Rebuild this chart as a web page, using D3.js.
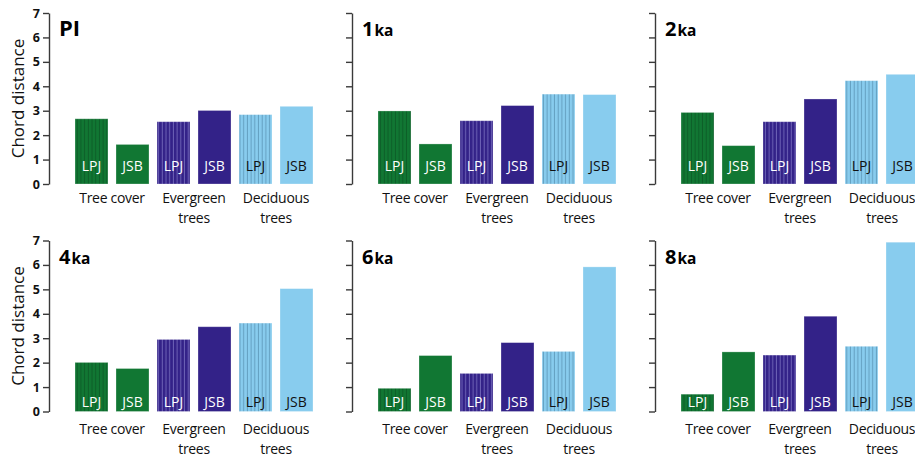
<!DOCTYPE html>
<html>
<head>
<meta charset="utf-8">
<script src="https://cdn.jsdelivr.net/npm/d3@7"></script>
<style>
  html, body { margin: 0; padding: 0; background: #fff; }
  svg { display: block; font-family: "Open Sans", sans-serif; }
</style>
</head>
<body>
<svg id="chart" width="915" height="459"></svg>
<script>
// Chord distance between simulated and reconstructed vegetation, per time slice
const periods = ["PI", "1ka", "2ka", "4ka", "6ka", "8ka"];
const categories = ["Tree cover", "Evergreen trees", "Deciduous trees"];
const models = ["LPJ", "JSB"];
const yTicks = [0, 1, 2, 3, 4, 5, 6, 7];

// values per period, in category order
const lpjValues = [
  [2.67, 2.55, 2.84],
  [2.99, 2.59, 3.68],
  [2.93, 2.55, 4.23],
  [2.01, 2.95, 3.62],
  [0.95, 1.56, 2.46],
  [0.71, 2.31, 2.67]
];
const jsbValues = [
  [1.62, 3.01, 3.18],
  [1.64, 3.21, 3.66],
  [1.57, 3.48, 4.49],
  [1.76, 3.47, 5.03],
  [2.29, 2.82, 5.92],
  [2.44, 3.90, 6.93]
];

const catColors = ["#117733", "#332288", "#88CCEE"];
const stripeColors = ["#0a4f20", "#8d84cf", "#4f87a6"];
const labelColors = ["#ffffff", "#ffffff", "#111111"];

const svg = d3.select("#chart");
const defs = svg.append("defs");

// vertical hatching used for LPJ bars
catColors.forEach((c, i) => {
  const p = defs.append("pattern")
    .attr("id", "stripe" + i)
    .attr("patternUnits", "userSpaceOnUse")
    .attr("width", 3.7).attr("height", 10);
  p.append("rect").attr("width", 3.7).attr("height", 10).attr("fill", c);
  p.append("rect").attr("x", 2.7).attr("width", 0.8).attr("height", 10)
    .attr("fill", stripeColors[i]).attr("opacity", 0.8);
});

const axisXs = [49, 352, 655];
const rows = [
  { top: 13, bottom: 184, labelGap: 13, catGap: 19 },
  { top: 240.5, bottom: 411.5, labelGap: 5, catGap: 22.5 }
];

periods.forEach((period, pi) => {
  const col = pi % 3;
  const row = rows[Math.floor(pi / 3)];
  const ax = axisXs[col];

  const y = d3.scaleLinear().domain([0, 7]).range([row.bottom, row.top]);

  const keys = [];
  categories.forEach((c, ci) => models.forEach(m => keys.push({ ci, m })));
  const x = d3.scaleBand()
    .domain(keys.map((k, i) => i))
    .range([ax + 26, ax + 26 + 5 * 41 + 33])
    .paddingInner(8 / 41)
    .paddingOuter(0);

  const g = svg.append("g");

  // y axis
  const axis = d3.axisLeft(y).tickValues(yTicks).tickSize(6).tickSizeOuter(0)
    .tickFormat(col === 0 ? d3.format("d") : () => "");
  const ag = g.append("g").attr("transform", `translate(${ax},0)`).call(axis);
  ag.select(".domain").attr("stroke", "#3a3a3a").attr("stroke-width", 1.4);
  ag.selectAll(".tick line").attr("stroke", "#3a3a3a").attr("stroke-width", 1.4);
  ag.selectAll(".tick text")
    .attr("font-family", "'Open Sans', sans-serif")
    .attr("font-size", 12.5).attr("font-weight", "bold").attr("fill", "#111")
    .attr("x", -9);

  if (col === 0) {
    g.append("text")
      .attr("transform", `translate(24,${(row.top + row.bottom) / 2}) rotate(-90)`)
      .attr("text-anchor", "middle")
      .attr("font-size", 17).attr("fill", "#111")
      .text("Chord distance");
  }

  // bars
  const data = keys.map((k, i) => ({
    i, ci: k.ci, m: k.m,
    v: k.m === "LPJ" ? lpjValues[pi][k.ci] : jsbValues[pi][k.ci]
  }));

  g.selectAll("rect.bar").data(data).join("rect")
    .attr("class", "bar")
    .attr("x", d => x(d.i))
    .attr("width", x.bandwidth())
    .attr("y", d => y(d.v))
    .attr("height", d => y(0) - y(d.v))
    .attr("fill", d => d.m === "LPJ" ? `url(#stripe${d.ci})` : catColors[d.ci])
    .attr("stroke", "#ffffff").attr("stroke-opacity", 0.35).attr("stroke-width", 0.8);

  g.selectAll("text.model").data(data).join("text")
    .attr("class", "model")
    .attr("x", d => x(d.i) + x.bandwidth() / 2)
    .attr("y", row.bottom - row.labelGap)
    .attr("text-anchor", "middle")
    .attr("font-size", 14)
    .attr("fill", d => labelColors[d.ci])
    .text(d => d.m);

  // category labels below each pair of bars
  categories.forEach((c, ci) => {
    const cx = (x(ci * 2) + x(ci * 2 + 1) + x.bandwidth()) / 2;
    const lines = c.endsWith(" trees") ? [c.replace(" trees", ""), "trees"] : [c];
    const t = g.append("text")
      .attr("text-anchor", "middle")
      .attr("font-size", 14).attr("letter-spacing", -0.3).attr("fill", "#111");
    lines.forEach((ln, li) => {
      t.append("tspan").attr("x", cx)
        .attr("y", row.bottom + row.catGap + li * 19.5)
        .text(ln);
    });
  });

  // panel title
  const m = period.match(/^(\d+)(ka)$/);
  const title = g.append("text")
    .attr("x", ax + 10).attr("y", row.top + 23)
    .attr("font-weight", "bold").attr("fill", "#000");
  if (m) {
    title.append("tspan").attr("font-size", 20).text(m[1]);
    title.append("tspan").attr("font-size", 15.5).attr("dx", 1).text(m[2]);
  } else {
    title.append("tspan").attr("font-size", 22).text(period);
  }
});
</script>
</body>
</html>
